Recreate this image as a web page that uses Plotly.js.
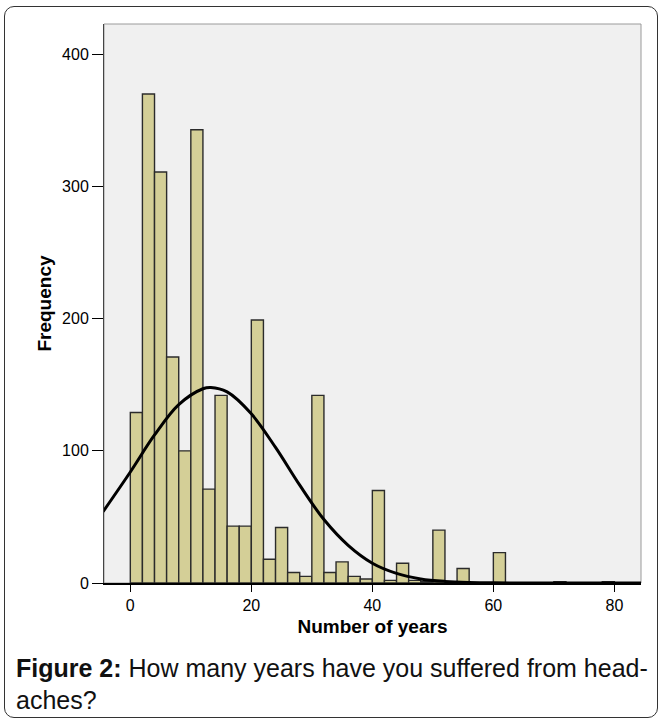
<!DOCTYPE html>
<html>
<head>
<meta charset="utf-8">
<script src="https://cdn.plot.ly/plotly-3.0.1.min.js"></script>
<style>
  html, body { margin: 0; padding: 0; background: #ffffff; }
  #frame {
    position: absolute; left: 4px; top: 6px; width: 654px; height: 712px;
    border: 1px solid #333; border-radius: 10px; box-sizing: border-box;
  }
  #chart { position: absolute; left: 0; top: 0; width: 664px; height: 722px; }
</style>
</head>
<body>
<div id="frame"></div>
<div id="chart"></div>
<script>
// Histogram bins (start of each 2-year bin) and frequencies
const binStarts = [0, 2, 4, 6, 8, 10, 12, 14, 16, 18,
                   20, 22, 24, 26, 28, 30, 32, 34, 36, 38,
                   40, 42, 44, 46, 48, 50, 52, 54, 56, 58,
                   60, 62, 64, 66, 68, 70, 72, 74, 76, 78];
const counts    = [129, 370, 311, 171, 100, 343, 71, 142, 43, 43,
                   199, 18, 42, 8, 5, 142, 8, 16, 5, 3,
                   70, 2, 15, 2, 1, 40, 0, 11, 0, 0,
                   23, 0, 0, 0, 0, 1, 0, 0, 0, 1];

// Normal curve points
const curveX = [-4.5, 0, 4, 8, 12, 13.3, 16, 20, 24, 28, 32, 36, 40, 44, 48, 52, 56, 60, 70, 84.5];
const curveY = [54, 84, 112, 135, 147, 148, 144.6, 128, 102.6, 74, 48, 28.5, 15, 7.3, 3.1, 1.2, 0.4, 0.1, 0, 0];

const xTicks = [0, 20, 40, 60, 80];
const yTicks = [0, 100, 200, 300, 400];

const captionBold = 'Figure 2:';
const captionLine1 = 'How many years have you suffered from head-';
const captionLine2 = 'aches?';

const FONT = 'Arial, "Liberation Sans", sans-serif';

const bars = {
  type: 'bar',
  x: binStarts,
  y: counts,
  width: 2,
  offset: 0,
  marker: { color: '#d4cf97', line: { color: '#2b2b2b', width: 1.4 } },
  hoverinfo: 'x+y',
  showlegend: false
};

const curve = {
  type: 'scatter',
  mode: 'lines',
  x: curveX,
  y: curveY,
  line: { color: '#000000', width: 3, shape: 'spline', smoothing: 1 },
  hoverinfo: 'skip',
  showlegend: false,
  cliponaxis: true
};

const layout = {
  width: 664,
  height: 722,
  margin: { l: 104, r: 23, t: 24, b: 139 },
  paper_bgcolor: 'rgba(0,0,0,0)',
  plot_bgcolor: '#f0f0f0',
  font: { family: FONT, color: '#000000', size: 16 },
  bargap: 0,
  xaxis: {
    range: [-4.35, 84.4],
    tickvals: xTicks,
    ticktext: xTicks.map(String),
    ticks: 'outside',
    ticklen: 7,
    tickwidth: 1,
    tickcolor: '#000',
    showgrid: false,
    zeroline: false,
    showline: true,
    linecolor: '#000',
    linewidth: 1.5,
    tickfont: { family: FONT, size: 16, color: '#000' },
    title: { text: '<b>Number of years</b>', font: { family: FONT, size: 19, color: '#000' }, standoff: 7 },
    fixedrange: true
  },
  yaxis: {
    range: [0, 423],
    tickvals: yTicks,
    ticktext: yTicks.map(String),
    ticks: 'outside',
    ticklen: 11,
    tickwidth: 1,
    tickcolor: '#000',
    showgrid: false,
    zeroline: false,
    showline: true,
    linecolor: '#444',
    linewidth: 1,
    tickfont: { family: FONT, size: 16, color: '#000' },
    title: { text: '<b>Frequency</b>', font: { family: FONT, size: 19, color: '#000' }, standoff: 5 },
    fixedrange: true
  },
  shapes: [
    { type: 'rect', xref: 'paper', yref: 'paper', x0: 0, x1: 1, y0: 0, y1: 1,
      line: { color: '#9a9a9a', width: 1 }, fillcolor: 'rgba(0,0,0,0)', layer: 'below' }
  ],
  annotations: [
    { xref: 'paper', yref: 'paper', x: -0.168, y: -0.152, xanchor: 'left', yanchor: 'middle',
      showarrow: false, align: 'left',
      text: '<b>' + captionBold + '</b> ' + captionLine1,
      font: { family: FONT, size: 25, color: '#111' } },
    { xref: 'paper', yref: 'paper', x: -0.168, y: -0.21, xanchor: 'left', yanchor: 'middle',
      showarrow: false, align: 'left',
      text: captionLine2,
      font: { family: FONT, size: 25, color: '#111' } }
  ]
};

Plotly.newPlot('chart', [bars, curve], layout, { displayModeBar: false, staticPlot: true });
</script>
</body>
</html>
